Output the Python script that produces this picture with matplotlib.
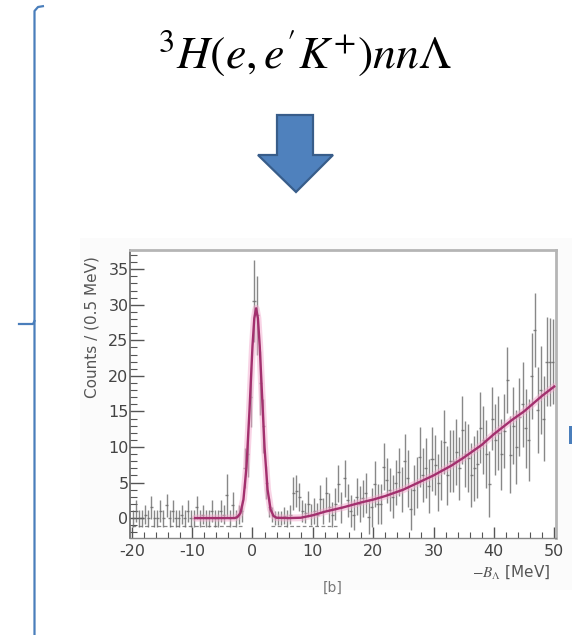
import numpy as np
import matplotlib
matplotlib.use("Agg")
import matplotlib.pyplot as plt
from matplotlib.patches import Polygon, Rectangle
from matplotlib.ticker import MultipleLocator

plt.rcParams["axes.unicode_minus"] = False
plt.rcParams["mathtext.fontset"] = "stix"

# ---------------- data ----------------
bin_start = -20.0
bin_width = 0.5
# counts per 0.5 MeV bin, rows of 10 bins (5 MeV each), from -20 to 50 MeV
counts = [
    0, 1, 0, 0, 0.5, 0, 1.5, 0, 0, 1,            # -20 .. -15
    0, 1.8, 0, 1, 0, 0, 0.5, 0, 1, 0,            # -15 .. -10
    0, 1.5, 0, 0.5, 0, 0, 1, 0, 0, 1,            # -10 .. -5
    0.5, 3.2, 0, 1.8, 0, 0.5, 1, 7, 9, 17,       # -5 .. 0
    30.5, 28.5, 19, 13, 5, 1.5, 0.5, 0, 0, 0,    # 0 .. 5
    0.3, 0, 0.5, 3.5, 3.8, 3, 1, 0.7, 2, 0.5,    # 5 .. 10
    1, 0.5, 2.7, 1, 3.5, 1.5, 0.5, 2, 4.8, 1.5,  # 10 .. 15
    5.6, 2.5, 1, 0.5, 3, 2, 2.8, 3.5, 0.2, 1.5,  # 15 .. 20
    4.8, 2, 2, 7.2, 5.3, 4, 3, 5, 6.5, 4,        # 20 .. 25
    8, 5.6, 1.3, 4, 5, 8.6, 6, 7, 4.5, 8.3,      # 25 .. 30
    7.5, 5, 6.8, 10.7, 6, 8, 8, 9.3, 7, 12.4,    # 30 .. 35
    9, 8.5, 6, 7, 7.6, 12.7, 11, 9, 4.8, 14,     # 35 .. 40
    11, 12, 9, 12.3, 19.4, 8.9, 13, 10, 14.2, 16,  # 40 .. 45
    12.6, 11, 20, 26.5, 15.2, 18, 14, 22, 22, 22,  # 45 .. 50
]
errors = [
    1.2, 1.5, 1.2, 1.2, 1.3, 1.2, 1.6, 1.2, 1.2, 1.5,
    1.2, 1.6, 1.2, 1.5, 1.2, 1.2, 1.3, 1.2, 1.5, 1.2,
    1.2, 1.6, 1.2, 1.3, 1.2, 1.2, 1.5, 1.2, 1.2, 1.5,
    1.3, 3.0, 1.2, 1.8, 1.2, 1.3, 1.5, 2.8, 3.2, 4.2,
    5.8, 5.5, 4.5, 3.8, 2.3, 1.3, 1.0, 1.0, 1.0, 1.0,
    1.2, 1.2, 1.4, 2.3, 2.2, 2.0, 1.6, 1.4, 1.8, 1.5,
    1.8, 1.6, 2.0, 1.8, 2.3, 2.0, 1.8, 2.2, 2.6, 2.2,
    2.6, 2.3, 2.2, 2.2, 2.6, 2.5, 2.6, 2.8, 2.5, 2.7,
    3.2, 2.8, 2.8, 3.3, 3.2, 3.0, 3.0, 3.2, 3.4, 3.2,
    3.8, 4.0, 3.0, 3.5, 3.6, 4.2, 3.8, 4.2, 3.8, 4.5,
    4.2, 4.0, 4.2, 4.5, 4.2, 4.4, 4.4, 4.6, 4.4, 4.8,
    4.6, 4.8, 4.5, 4.6, 4.8, 5.0, 4.8, 4.8, 4.6, 4.4,
    5.0, 5.2, 5.0, 5.2, 4.6, 5.4, 5.4, 5.2, 5.5, 6.0,
    5.6, 5.8, 6.0, 5.2, 6.0, 6.2, 6.0, 6.3, 6.2, 6.0,
]
# fitted curve (peak + quasi-free background)
fit_x = [-9.5, -3, -2.5, -2, -1.5, -1, -0.5, 0, 0.3, 0.6, 0.9, 1.2, 1.5, 2, 2.5, 3, 3.5, 4,
         6, 8, 10, 12, 15, 18, 20, 22, 25, 28, 30, 33, 35, 38, 40, 43, 45, 48, 50]
fit_y = [0, 0, 0.14, 0.7, 2.6, 7.1, 15.1, 24.2, 28.1, 29.5, 28.1, 24.2, 18.8, 9.9, 4.0, 1.2, 0.28, 0.05,
         0, 0.05, 0.4, 0.9, 1.5, 2.2, 2.6, 3.1, 4.0, 5.2, 6.0, 7.4, 8.5, 10.3, 11.8, 13.8, 15.0, 17.2, 18.5]
# dashed reference level segments
dash_segments = [(-20, -1.5), (3, 14)]
dash_level = -1.1

formula = r"$^{3}H(e,e'K^{+})nn\Lambda$"
y_label = "Counts / (0.5 MeV)"
x_label = r"$-B_{\Lambda}$ [MeV]"
panel_label = "[b]"

# ---------------- figure ----------------
W, H = 572, 635
fig = plt.figure(figsize=(W / 100, H / 100), dpi=100)
fig.patch.set_facecolor("white")

# overlay in pixel coordinates for slide decorations
ov = fig.add_axes([0, 0, 1, 1])
ov.set_xlim(0, W)
ov.set_ylim(H, 0)
ov.axis("off")

blue = "#4a7ebb"
# faint frame of the embedded picture
ov.add_patch(Rectangle((80, 238), 492, 352, facecolor="#fbfbfb", edgecolor="none", zorder=0))
# brace on the left
ov.plot([44, 38, 34.5, 34.5], [6, 7, 11, 635], color=blue, lw=1.6, solid_capstyle="butt")
ov.plot([19, 33, 34.5], [324, 324, 321], color=blue, lw=1.6)
# small blue mark at right edge
ov.add_patch(Rectangle((569, 426), 4, 18, facecolor=blue, edgecolor="none"))
# down arrow
arrow = Polygon([(277, 115), (313, 115), (313, 155), (333, 155), (296, 192),
                 (258, 155), (277, 155)], closed=True,
                facecolor="#4f81bd", edgecolor="#385d8a", lw=1.6, joinstyle="miter")
ov.add_patch(arrow)

# formula
fig.text(305 / W, 1 - 68 / H, formula, fontsize=33, ha="center", va="baseline", color="black")

# ---------------- chart ----------------
left, right, top, bottom = 130, 556, 250, 538
ax = fig.add_axes([left / W, 1 - bottom / H, (right - left) / W, (bottom - top) / H])
ax.set_facecolor("white")

n = len(counts)
centers = bin_start + bin_width * (np.arange(n) + 0.5)
counts_a = np.array(counts)
errors_a = np.array(errors)

ax.errorbar(centers, counts_a, yerr=errors_a, xerr=bin_width / 2, fmt="none",
            ecolor="#6a6a6a", elinewidth=1.0, capsize=0, alpha=0.8, zorder=2)
for a, b in dash_segments:
    ax.plot([a, b], [dash_level, dash_level], color="#8a8a8a", lw=0.9,
            dashes=(3, 2), zorder=1)
ax.plot(fit_x, fit_y, color="#f2a9cc", lw=5, alpha=0.5, zorder=3, solid_capstyle="round")
ax.plot(fit_x, fit_y, color="#a3306e", lw=1.7, zorder=4)

ax.set_xlim(-20.3, 50.3)
ax.set_ylim(-2.8, 37.7)
ax.xaxis.set_major_locator(MultipleLocator(10))
ax.xaxis.set_minor_locator(MultipleLocator(2))
ax.yaxis.set_minor_locator(MultipleLocator(1))
ax.yaxis.set_ticks([0, 5, 10, 15, 20, 25, 30, 35])

tick_font = ["Liberation Sans Narrow", "DejaVu Sans"]
ax.tick_params(axis="both", which="both", direction="in", color="#555555",
               labelcolor="#444444", labelsize=11.5)
ax.tick_params(axis="y", which="major", length=10, width=1.0, pad=1)
ax.tick_params(axis="y", which="minor", length=5, width=0.8)
ax.tick_params(axis="x", which="major", length=8, width=1.0, pad=4)
ax.tick_params(axis="x", which="minor", length=4, width=0.8)
for lab in ax.get_xticklabels() + ax.get_yticklabels():
    lab.set_family(tick_font)

for side in ["top", "right"]:
    ax.spines[side].set_color("#b5b5b5")
    ax.spines[side].set_linewidth(2.0)
ax.spines["left"].set_color("#666666")
ax.spines["left"].set_linewidth(1.2)
ax.spines["bottom"].set_color("#888888")
ax.spines["bottom"].set_linewidth(1.0)

fig.text(92 / W, 1 - 327 / H, y_label, rotation=90, ha="center", va="center",
         fontsize=11, color="#555555", family=tick_font)
fig.text(550 / W, 1 - 572 / H, x_label, ha="right", va="center",
         fontsize=11, color="#555555", family=tick_font)
fig.text(333 / W, 1 - 588 / H, panel_label, ha="center", va="center",
         fontsize=10, color="#777777", family=tick_font)

fig.savefig("out.png", dpi=100, facecolor="white")
